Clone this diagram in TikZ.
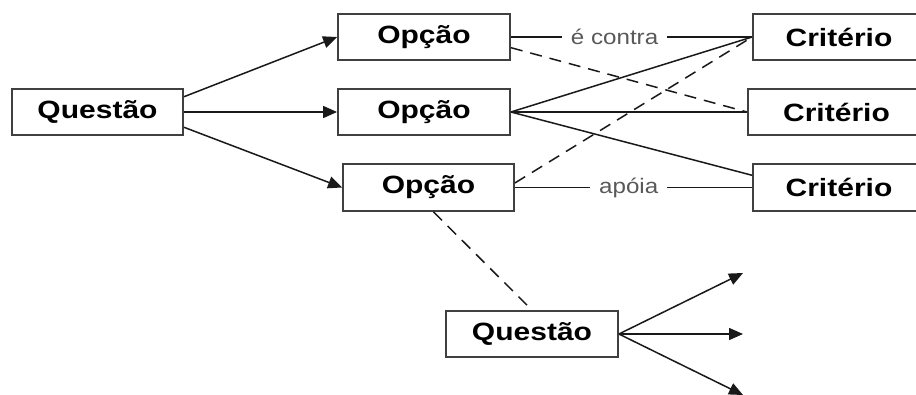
\documentclass[tikz,border=0pt]{standalone}
\usepackage{fontspec}
\setmainfont{Liberation Sans}
\newfontfamily\boxfont{Liberation Sans}[FakeStretch=1.2]
\newfontfamily\labfont{Liberation Sans}[FakeStretch=1.15]
\usetikzlibrary{arrows.meta,calc}
\tikzset{
  box/.style={draw=black!75, line width=1.8pt, fill=white, rectangle,
    minimum width=172pt, minimum height=46pt, inner sep=0pt,
    font=\boxfont\bfseries\fontsize{25}{30}\selectfont},
  link/.style={line width=1.5pt, black!90},
  arr/.style={link, -{Triangle[length=14pt,width=12pt]}},
  dlink/.style={link, dash pattern=on 12pt off 8pt},
  lab/.style={fill=white, inner xsep=9pt, inner ysep=2pt, text=black!65,
    font=\labfont\fontsize{21}{25}\selectfont}
}
\begin{document}
\begin{tikzpicture}[x=1pt,y=-1pt]
\useasboundingbox (0,0) rectangle (916,394);
\fill[white] (0,0) rectangle (916,394);

% issue, options and criteria
\node[box, minimum width=171pt] (q1) at (97.5,112) {Questão};
\node[box] (o1) at (424,37) {Opção};
\node[box] (o2) at (424,112) {Opção};
\node[box, minimum width=171pt, minimum height=47pt] (o3) at (428.5,187.5) {Opção};
\node[box] (c1) at (839,37) {Critério};
\node[box, minimum width=177pt] (c2) at (836.5,112) {Critério};
\node[box, minimum width=172pt, minimum height=47pt] (c3) at (839,187.5) {Critério};
\node[box] (q2) at (532,334) {Questão};

% loose ends of the sub-issue
\coordinate (e1) at (743,273);
\coordinate (e2) at (743,334);
\coordinate (e3) at (743,395);

% issue to options
\draw[arr] (q1.10) -- (o1.west);
\draw[arr] (q1.east) -- (o2.west);
\draw[arr] (q1.-10) -- (o3.west);

% options to criteria
\draw[link] (o1.east) -- node[lab, pos=0.43] {é contra} (c1.west);
\draw[dlink] (o1.-7) -- (c2.west);
\draw[link] (o2.east) -- (c1.west);
\draw[link] (o2.east) -- (c2.west);
\draw[link] (o2.east) -- (c3.172);
\draw[dlink] (o3.3) -- (c1.west);
\draw[link] (o3.east) -- node[lab, pos=0.48] {apóia} (c3.west);

% option to sub-issue
\draw[dlink] ($(o3.south)+(5,0)$) -- (q2.north);

% sub-issue onwards
\draw[arr] (q2.east) -- (e1);
\draw[arr] (q2.east) -- (e2);
\draw[arr] (q2.east) -- (e3);
\end{tikzpicture}
\end{document}
